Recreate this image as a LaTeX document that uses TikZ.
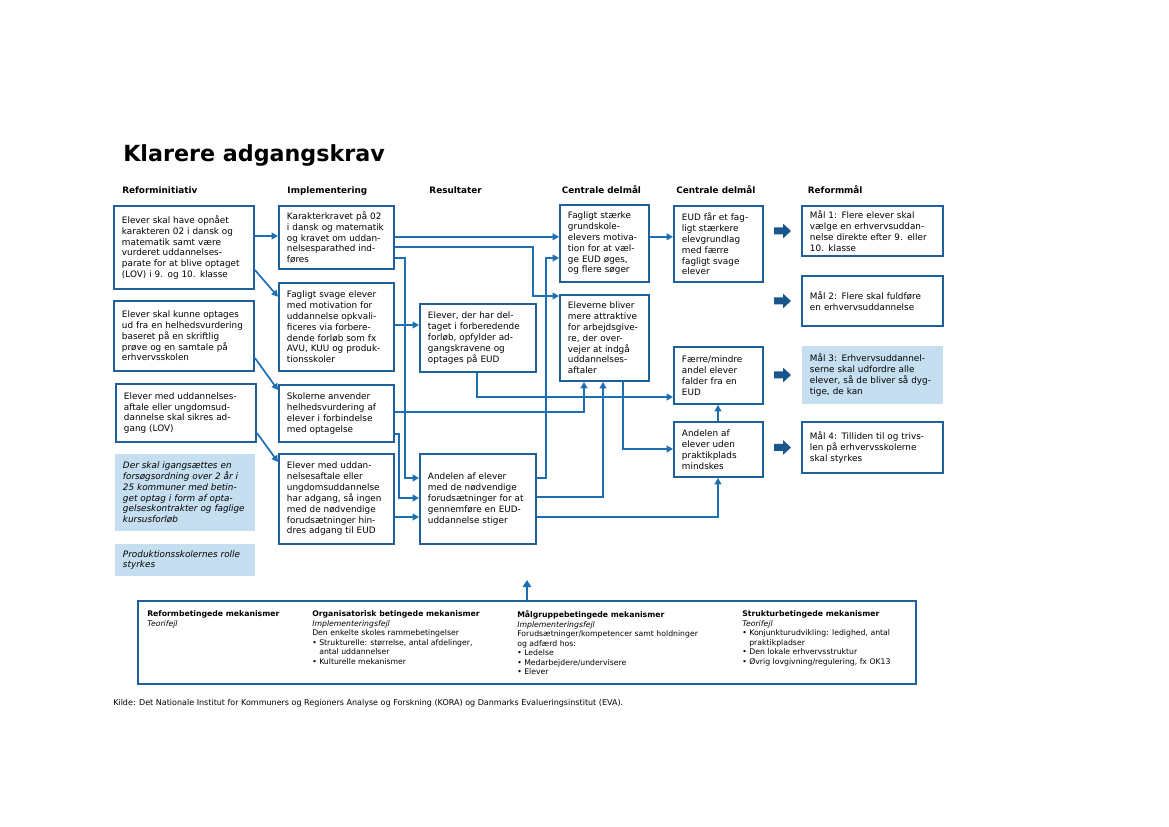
\documentclass[tikz,border=0pt]{standalone}
\usepackage{fontspec}
\setmainfont{DejaVu Sans}
\usepackage{tikz}
\usetikzlibrary{arrows.meta}
\definecolor{boxblue}{RGB}{31,96,156}
\definecolor{lineblue}{RGB}{30,110,180}
\definecolor{lightblue}{RGB}{197,223,240}
\definecolor{arrowblue}{RGB}{26,86,142}
\newcommand{\boxfont}{\fontsize{6.3}{7.7}\selectfont}
\newcommand{\mechfont}{\fontsize{5.5}{6.75}\selectfont}

\begin{document}
\begin{tikzpicture}[
  box/.style={draw=boxblue, line width=1.4pt, fill=white, anchor=north west, align=left, font=\boxfont, inner xsep=0.2cm, inner ysep=0pt},
  note/.style={box, draw=none, fill=lightblue, font=\boxfont\itshape},
  colhead/.style={anchor=base west, inner sep=0pt, font=\fontsize{6.3}{7.7}\selectfont\bfseries},
  flow/.style={draw=lineblue, line width=1.2pt, -{Triangle[length=4.5pt, width=4.8pt]}},
  mechtext/.style={anchor=north west, inner sep=0pt, align=left, font=\mechfont}
]
\useasboundingbox (0,0) rectangle (29.225,-20.675);

\node[anchor=base west, inner sep=0pt, font=\fontsize{15.8}{18}\selectfont\bfseries] (title) at (3.075,-4.04) {Klarere adgangskrav};

\node[colhead] (h1) at (3.05,-4.84) {Reforminitiativ};
\node[colhead] (h2) at (7.18,-4.84) {Implementering};
\node[colhead] (h3) at (10.73,-4.84) {Resultater};
\node[colhead] (h4) at (14.04,-4.84) {Centrale delmål};
\node[colhead] (h5) at (16.9,-4.84) {Centrale delmål};
\node[colhead] (h6) at (20.19,-4.84) {Reformmål};

% reforminitiativ
\node[box, text width=3.1cm, minimum height=2.075cm] (B1) at (2.825,-5.125) {Elever skal have opnået\\karakteren 02 i dansk og\\matematik samt være\\vurderet uddannelses-\\parate for at blive optaget\\(LOV) i 9. og 10. klasse};
\node[box, text width=3.1cm, minimum height=1.75cm] (B2) at (2.825,-7.5) {Elever skal kunne optages\\ud fra en helhedsvurdering\\baseret på en skriftlig\\prøve og en samtale på\\erhvervsskolen};
\node[box, text width=3.1cm, minimum height=1.45cm] (B3) at (2.875,-9.575) {Elever med uddannelses-\\aftale eller ungdomsud-\\dannelse skal sikres ad-\\gang (LOV)};
\node[note, text width=3.1cm, minimum height=1.925cm] (B4) at (2.85,-11.325) {Der skal igangsættes en\\forsøgsordning over 2 år i\\25 kommuner med betin-\\get optag i form af opta-\\gelseskontrakter og faglige\\kursusforløb};
\node[note, text width=3.1cm, minimum height=0.8cm] (B5) at (2.85,-13.575) {Produktionsskolernes rolle\\styrkes};

% implementering
\node[box, text width=2.475cm, minimum height=1.575cm] (I1) at (6.95,-5.125) {Karakterkravet på 02\\i dansk og matematik\\og kravet om uddan-\\nelsesparathed ind-\\føres};
\node[box, text width=2.475cm, minimum height=2.2cm] (I2) at (6.95,-7.05) {Fagligt svage elever\\med motivation for\\uddannelse opkvali-\\ficeres via forbere-\\dende forløb som fx\\AVU, KUU og produk-\\tionsskoler};
\node[box, text width=2.475cm, minimum height=1.425cm] (I3) at (6.95,-9.6) {Skolerne anvender\\helhedsvurdering af\\elever i forbindelse\\med optagelse};
\node[box, text width=2.475cm, minimum height=2.25cm] (I4) at (6.95,-11.325) {Elever med uddan-\\nelsesaftale eller\\ungdomsuddannelse\\har adgang, så ingen\\med de nødvendige\\forudsætninger hin-\\dres adgang til EUD};

% resultater
\node[box, text width=2.5cm, minimum height=1.7cm] (R1) at (10.475,-7.575) {Elever, der har del-\\taget i forberedende\\forløb, opfylder ad-\\gangskravene og\\optages på EUD};
\node[box, text width=2.5cm, minimum height=2.25cm] (R2) at (10.475,-11.325) {Andelen af elever\\med de nødvendige\\forudsætninger for at\\gennemføre en EUD-\\uddannelse stiger};

% centrale delmaal
\node[box, text width=1.825cm, minimum height=1.925cm] (C1) at (13.975,-5.1) {Fagligt stærke\\grundskole-\\elevers motiva-\\tion for at væl-\\ge EUD øges,\\og flere søger};
\node[box, text width=1.825cm, minimum height=2.15cm] (C2) at (13.975,-7.35) {Eleverne bliver\\mere attraktive\\for arbejdsgive-\\re, der over-\\vejer at indgå\\uddannelses-\\aftaler};
\node[box, text width=1.825cm, minimum height=1.9cm] (D1) at (16.825,-5.125) {EUD får et fag-\\ligt stærkere\\elevgrundlag\\med færre\\fagligt svage\\elever};
\node[box, text width=1.825cm, minimum height=1.425cm] (D2) at (16.825,-8.65) {Færre/mindre\\andel elever\\falder fra en\\EUD};
\node[box, text width=1.825cm, minimum height=1.375cm] (D3) at (16.825,-10.525) {Andelen af\\elever uden\\praktikplads\\mindskes};

% reformmaal
\node[box, text width=3.125cm, minimum height=1.25cm] (M1) at (20.025,-5.125) {Mål 1: Flere elever skal\\vælge en erhvervsuddan-\\nelse direkte efter 9. eller\\10. klasse};
\node[box, text width=3.125cm, minimum height=1.25cm] (M2) at (20.025,-6.875) {Mål 2: Flere skal fuldføre\\en erhvervsuddannelse};
\node[box, draw=none, fill=lightblue, text width=3.125cm, minimum height=1.45cm] (M3) at (20.025,-8.625) {Mål 3: Erhvervsuddannel-\\serne skal udfordre alle\\elever, så de bliver så dyg-\\tige, de kan};
\node[box, text width=3.125cm, minimum height=1.275cm] (M4) at (20.025,-10.525) {Mål 4: Tilliden til og trivs-\\len på erhvervsskolerne\\skal styrkes};

\foreach \m in {M1,M2,M3,M4}
  \fill[arrowblue] ([xshift=-0.675cm, yshift=0.0875cm]\m.west) -- ++(0.225,0) -- ++(0,0.0975) -- ++(0.2,-0.185) -- ++(-0.2,-0.185) -- ++(0,0.0975) -- ++(-0.225,0) -- cycle;

% forbindelser
\draw[flow] (B1.east |- 0,-5.9) -- (I1.west |- 0,-5.9);
\draw[flow] (B1.east |- 0,-6.75) -- (I2.west |- 0,-7.42);
\draw[flow] (B2.east |- 0,-8.95) -- (I3.west |- 0,-9.75);
\draw[flow] (B3.east |- 0,-10.825) -- (I4.west |- 0,-11.55);
\draw[flow] (I1.east |- 0,-5.92) -- (C1.west |- 0,-5.92);
\draw[flow] (I1.east |- 0,-6.17) -| (13.325,-7.4) -- (C2.west |- 0,-7.4);
\draw[flow] (I1.east |- 0,-6.45) -| (10.125,-11.95) -- (R2.west |- 0,-11.95);
\draw[flow] (I2.east |- 0,-8.125) -- (R1.west |- 0,-8.125);
\draw[flow] (I3.east |- 0,-10.3) -| (C2.south -| 14.6,0);
\draw[flow] (I3.east |- 0,-10.85) -| (9.975,-12.45) -- (R2.west |- 0,-12.45);
\draw[flow] (I4.east |- 0,-12.925) -- (R2.west |- 0,-12.925);
\draw[flow] (R1.south -| 11.925,0) |- (D2.west |- 0,-9.925);
\draw[flow] (R2.east |- 0,-11.95) -| (13.65,-6.45) -- (C1.west |- 0,-6.45);
\draw[flow] (R2.east |- 0,-12.425) -| (C2.south -| 15.075,0);
\draw[flow] (R2.east |- 0,-12.925) -| (D3.south -| 17.95,0);
\draw[flow] (C2.south -| 15.575,0) |- (D3.west |- 0,-11.225);
\draw[flow] (C1.east |- 0,-5.92) -- (D1.west |- 0,-5.92);
\draw[flow] (D3.north -| 17.95,0) -- (D2.south -| 17.95,0);

% mekanismer
\node[draw=boxblue, line width=1.4pt, anchor=north west, minimum width=19.45cm, minimum height=2.075cm, inner sep=0pt] (mech) at (3.425,-15.0) {};
\coordinate (mechtip) at (13.175,-14.5);
\draw[flow, line width=1.5pt, -{Triangle[length=5pt, width=6pt]}] (mech.north -| mechtip) -- (mechtip);

\node[mechtext] (k1) at (3.675,-15.27) {\textbf{Reformbetingede mekanismer}\\\textit{Teorifejl}};
\node[mechtext] (k2) at (7.8,-15.27) {\textbf{Organisatorisk betingede mekanismer}\\\textit{Implementeringsfejl}\\Den enkelte skoles rammebetingelser\\• Strukturelle: størrelse, antal afdelinger,\\\phantom{• }antal uddannelser\\• Kulturelle mekanismer};
\node[mechtext] (k3) at (12.925,-15.27) {\textbf{Målgruppebetingede mekanismer}\\\textit{Implementeringsfejl}\\Forudsætninger/kompetencer samt holdninger\\og adfærd hos:\\• Ledelse\\• Medarbejdere/undervisere\\• Elever};
\node[mechtext] (k4) at (18.55,-15.27) {\textbf{Strukturbetingede mekanismer}\\\textit{Teorifejl}\\• Konjunkturudvikling: ledighed, antal\\\phantom{• }praktikpladser\\• Den lokale erhvervsstruktur\\• Øvrig lovgivning/regulering, fx OK13};

\node[anchor=base west, inner sep=0pt, font=\fontsize{5.7}{6.8}\selectfont] (kilde) at (2.825,-17.63) {Kilde: Det Nationale Institut for Kommuners og Regioners Analyse og Forskning (KORA) og Danmarks Evalueringsinstitut (EVA).};
\end{tikzpicture}
\end{document}
